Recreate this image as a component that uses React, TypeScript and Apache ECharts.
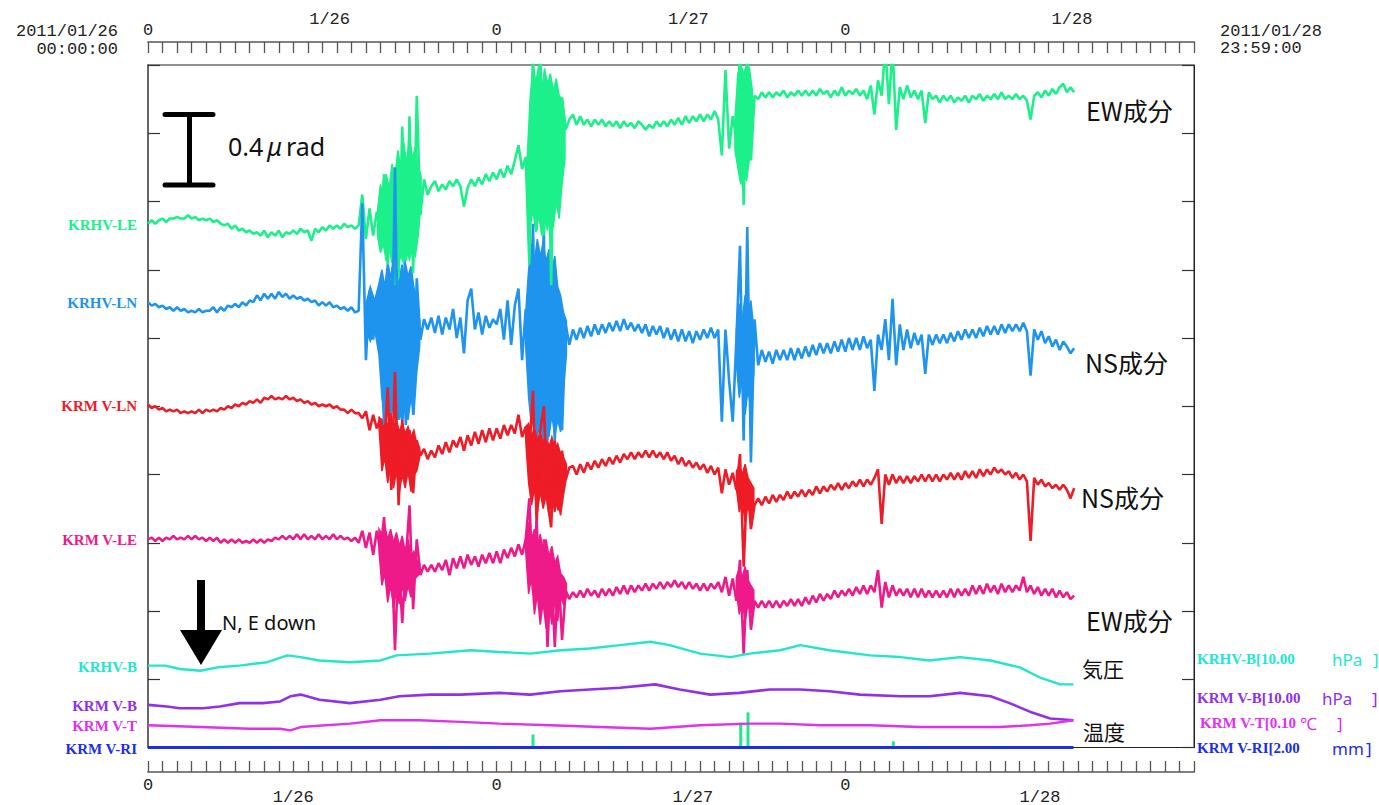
import React, { useEffect, useRef } from "react";
import * as echarts from "echarts";

// ---------- data ----------
const STEP_H = 0.25; // hours between tilt samples (start 2011/01/26 00:00)
const AXIS_HOURS = 72;
const hourZeroLabels = [0, 24, 48];
const topDateLabels: [string, number][] = [["1/26", 12.5], ["1/27", 37.2], ["1/28", 63.6]];
const bottomDateLabels: [string, number][] = [["1/26", 10.0], ["1/27", 37.5], ["1/28", 61.4]];

// tilt traces (μrad on the stacked display axis, 0.4 μrad per division)
const krhvLE = [
  3.07, 3.09, 3.07, 3.09, 3.10, 3.08, 3.10, 3.10, 3.11, 3.10,
  3.10, 3.12, 3.10, 3.11, 3.09, 3.10, 3.09, 3.10, 3.08, 3.09,
  3.07, 3.06, 3.07, 3.04, 3.06, 3.03, 3.04, 3.02, 3.03, 3.01,
  3.02, 3.00, 3.03, 2.99, 3.02, 3.00, 3.03, 2.99, 3.02, 3.01,
  3.03, 3.01, 3.04, 3.02, 3.03, 2.97, 3.04, 3.02, 3.05, 3.03,
  3.06, 3.04, 3.06, 3.04, 3.07, 3.05, 3.06, 3.04, 3.06, 3.24,
  2.98, 3.16, 3.00, 3.14, 3.02, 3.36, 2.83, 3.30, 2.71, 2.76,
  3.64, 2.85, 3.70, 2.78, 3.82, 3.12, 3.33, 3.24, 3.29, 3.32,
  3.26, 3.30, 3.27, 3.32, 3.29, 3.33, 3.29, 3.17, 3.28, 3.33,
  3.29, 3.34, 3.30, 3.36, 3.32, 3.37, 3.33, 3.39, 3.34, 3.41,
  3.36, 3.44, 3.53, 3.39, 3.46, 2.83, 4.10, 3.03, 4.10, 2.98,
  3.91, 2.71, 3.85, 3.23, 3.81, 3.62, 3.68, 3.71, 3.65, 3.70,
  3.65, 3.68, 3.64, 3.68, 3.65, 3.68, 3.64, 3.67, 3.64, 3.67,
  3.63, 3.67, 3.64, 3.66, 3.63, 3.67, 3.65, 3.62, 3.65, 3.63,
  3.67, 3.64, 3.67, 3.64, 3.68, 3.65, 3.69, 3.65, 3.70, 3.66,
  3.70, 3.67, 3.71, 3.67, 3.71, 3.68, 3.73, 3.68, 3.47, 3.97,
  3.51, 3.70, 3.56, 4.10, 3.18, 4.10, 3.44, 3.82, 3.80, 3.84,
  3.81, 3.84, 3.81, 3.84, 3.82, 3.85, 3.81, 3.84, 3.82, 3.85,
  3.82, 3.85, 3.82, 3.85, 3.82, 3.86, 3.83, 3.85, 3.81, 3.85,
  3.82, 3.87, 3.82, 3.85, 3.83, 3.86, 3.82, 3.85, 3.80, 3.88,
  3.71, 3.91, 3.82, 4.10, 3.77, 4.10, 3.62, 3.87, 3.80, 3.88,
  3.81, 3.85, 3.80, 3.85, 3.66, 3.84, 3.80, 3.82, 3.78, 3.82,
  3.79, 3.82, 3.78, 3.81, 3.79, 3.82, 3.78, 3.82, 3.80, 3.83,
  3.79, 3.82, 3.80, 3.83, 3.80, 3.84, 3.80, 3.82, 3.80, 3.83,
  3.80, 3.82, 3.79, 3.68, 3.82, 3.84, 3.81, 3.85, 3.82, 3.86,
  3.83, 3.87, 3.89, 3.84, 3.87, 3.84,
];
const krhvLN = [
  2.61, 2.59, 2.60, 2.58, 2.59, 2.57, 2.58, 2.56, 2.58, 2.56,
  2.57, 2.55, 2.56, 2.55, 2.57, 2.55, 2.56, 2.56, 2.58, 2.55,
  2.58, 2.56, 2.59, 2.58, 2.60, 2.58, 2.61, 2.59, 2.62, 2.61,
  2.65, 2.62, 2.66, 2.63, 2.66, 2.63, 2.67, 2.64, 2.66, 2.63,
  2.65, 2.63, 2.64, 2.62, 2.63, 2.61, 2.62, 2.59, 2.61, 2.59,
  2.61, 2.58, 2.59, 2.57, 2.58, 2.56, 2.58, 2.55, 2.56, 3.19,
  2.27, 2.68, 2.39, 2.62, 2.42, 1.89, 2.80, 1.98, 3.40, 1.92,
  2.83, 1.89, 2.68, 1.95, 2.75, 2.39, 2.51, 2.45, 2.52, 2.43,
  2.53, 2.42, 2.52, 2.45, 2.57, 2.40, 2.52, 2.31, 2.62, 2.69,
  2.45, 2.55, 2.42, 2.53, 2.46, 2.51, 2.48, 2.57, 2.39, 2.62,
  2.36, 2.59, 2.69, 2.27, 2.57, 2.15, 3.07, 1.86, 2.74, 3.00,
  1.80, 2.68, 1.80, 2.62, 1.86, 2.48, 2.36, 2.45, 2.39, 2.46,
  2.40, 2.47, 2.41, 2.48, 2.42, 2.48, 2.43, 2.49, 2.44, 2.50,
  2.44, 2.51, 2.45, 2.49, 2.44, 2.48, 2.43, 2.48, 2.41, 2.47,
  2.42, 2.47, 2.40, 2.46, 2.39, 2.45, 2.38, 2.45, 2.38, 2.44,
  2.37, 2.44, 2.39, 2.45, 2.40, 2.46, 2.40, 2.45, 1.91, 2.45,
  2.15, 1.91, 2.39, 2.94, 1.80, 3.05, 1.67, 2.51, 2.24, 2.33,
  2.26, 2.32, 2.25, 2.33, 2.27, 2.33, 2.27, 2.34, 2.27, 2.34,
  2.28, 2.35, 2.29, 2.36, 2.30, 2.37, 2.31, 2.37, 2.31, 2.38,
  2.32, 2.39, 2.32, 2.40, 2.33, 2.40, 2.33, 2.41, 2.34, 2.39,
  2.09, 2.42, 2.33, 2.51, 2.27, 2.63, 2.24, 2.48, 2.33, 2.45,
  2.34, 2.43, 2.36, 2.42, 2.19, 2.42, 2.36, 2.42, 2.37, 2.42,
  2.37, 2.43, 2.38, 2.44, 2.39, 2.45, 2.40, 2.45, 2.40, 2.46,
  2.41, 2.47, 2.42, 2.47, 2.42, 2.48, 2.43, 2.48, 2.44, 2.48,
  2.44, 2.49, 2.44, 2.18, 2.45, 2.39, 2.44, 2.37, 2.41, 2.35,
  2.39, 2.33, 2.38, 2.35, 2.31, 2.34,
];
const krmvLN = [
  2.01, 1.99, 2.00, 1.98, 1.99, 1.97, 1.98, 1.97, 1.98, 1.96,
  1.97, 1.96, 1.97, 1.96, 1.98, 1.96, 1.98, 1.97, 1.98, 1.97,
  1.99, 1.98, 2.00, 1.99, 2.01, 2.00, 2.02, 2.01, 2.03, 2.02,
  2.04, 2.02, 2.05, 2.04, 2.06, 2.04, 2.05, 2.04, 2.06, 2.04,
  2.05, 2.03, 2.04, 2.02, 2.03, 2.01, 2.02, 2.00, 2.01, 2.00,
  2.01, 1.99, 2.00, 1.98, 1.98, 1.96, 1.98, 1.96, 1.96, 1.93,
  1.97, 1.86, 1.95, 1.87, 1.93, 1.74, 2.11, 1.51, 2.20, 1.42,
  1.92, 1.63, 1.86, 1.49, 1.80, 1.71, 1.75, 1.69, 1.74, 1.70,
  1.77, 1.72, 1.79, 1.73, 1.80, 1.76, 1.82, 1.74, 1.83, 1.77,
  1.85, 1.78, 1.86, 1.79, 1.87, 1.80, 1.87, 1.81, 1.89, 1.83,
  1.89, 1.84, 1.95, 1.82, 1.88, 1.74, 2.09, 1.31, 1.86, 2.00,
  1.45, 1.29, 1.80, 1.39, 1.74, 1.57, 1.64, 1.65, 1.60, 1.66,
  1.61, 1.67, 1.63, 1.68, 1.64, 1.69, 1.65, 1.70, 1.66, 1.71,
  1.67, 1.72, 1.69, 1.73, 1.69, 1.73, 1.70, 1.74, 1.70, 1.74,
  1.70, 1.73, 1.69, 1.73, 1.68, 1.71, 1.66, 1.70, 1.65, 1.68,
  1.64, 1.67, 1.63, 1.66, 1.61, 1.65, 1.60, 1.64, 1.49, 1.63,
  1.54, 1.61, 1.51, 1.72, 1.06, 1.57, 1.28, 1.42, 1.46, 1.42,
  1.47, 1.43, 1.48, 1.44, 1.48, 1.45, 1.50, 1.46, 1.50, 1.47,
  1.51, 1.47, 1.51, 1.48, 1.53, 1.49, 1.53, 1.50, 1.54, 1.51,
  1.55, 1.51, 1.55, 1.52, 1.56, 1.53, 1.57, 1.53, 1.57, 1.54,
  1.58, 1.63, 1.31, 1.60, 1.54, 1.60, 1.55, 1.59, 1.55, 1.59,
  1.55, 1.59, 1.56, 1.60, 1.56, 1.60, 1.56, 1.60, 1.56, 1.60,
  1.57, 1.61, 1.57, 1.61, 1.57, 1.62, 1.58, 1.62, 1.58, 1.63,
  1.59, 1.63, 1.60, 1.64, 1.61, 1.63, 1.60, 1.62, 1.58, 1.61,
  1.57, 1.60, 1.56, 1.21, 1.58, 1.54, 1.57, 1.53, 1.55, 1.52,
  1.54, 1.51, 1.54, 1.51, 1.46, 1.52,
];
const krmvLE = [
  1.22, 1.23, 1.21, 1.23, 1.21, 1.23, 1.22, 1.24, 1.22, 1.23,
  1.22, 1.24, 1.22, 1.24, 1.22, 1.23, 1.21, 1.23, 1.21, 1.23,
  1.20, 1.22, 1.20, 1.22, 1.20, 1.22, 1.20, 1.21, 1.20, 1.22,
  1.20, 1.22, 1.20, 1.22, 1.21, 1.23, 1.22, 1.24, 1.22, 1.24,
  1.22, 1.25, 1.22, 1.25, 1.22, 1.24, 1.22, 1.25, 1.22, 1.24,
  1.22, 1.25, 1.22, 1.24, 1.22, 1.23, 1.21, 1.23, 1.20, 1.27,
  1.17, 1.26, 1.13, 1.27, 1.15, 1.35, 0.92, 1.22, 0.57, 1.13,
  0.73, 1.10, 1.42, 0.81, 1.22, 1.01, 1.07, 1.03, 1.07, 1.03,
  1.08, 1.04, 1.10, 1.01, 1.11, 1.05, 1.12, 1.05, 1.13, 1.07,
  1.12, 1.06, 1.13, 1.08, 1.14, 1.08, 1.15, 1.08, 1.16, 1.11,
  1.17, 1.12, 1.19, 1.13, 1.22, 1.46, 0.92, 1.33, 0.81, 1.22,
  0.59, 1.10, 0.59, 1.04, 0.63, 0.92, 0.87, 0.91, 0.88, 0.92,
  0.88, 0.93, 0.89, 0.92, 0.88, 0.93, 0.89, 0.93, 0.89, 0.94,
  0.90, 0.95, 0.90, 0.95, 0.91, 0.95, 0.92, 0.96, 0.92, 0.96,
  0.93, 0.97, 0.93, 0.97, 0.94, 0.98, 0.94, 0.97, 0.93, 0.97,
  0.93, 0.96, 0.92, 0.96, 0.92, 0.96, 0.93, 0.97, 0.91, 1.00,
  0.89, 0.99, 0.86, 1.10, 0.55, 1.04, 0.69, 0.86, 0.82, 0.86,
  0.82, 0.86, 0.82, 0.86, 0.82, 0.86, 0.83, 0.87, 0.83, 0.87,
  0.83, 0.88, 0.84, 0.89, 0.85, 0.90, 0.86, 0.90, 0.87, 0.92,
  0.88, 0.92, 0.89, 0.93, 0.89, 0.94, 0.90, 0.95, 0.90, 0.95,
  0.91, 1.04, 0.82, 0.97, 0.88, 0.95, 0.89, 0.93, 0.89, 0.93,
  0.88, 0.93, 0.88, 0.93, 0.88, 0.92, 0.88, 0.92, 0.88, 0.92,
  0.88, 0.93, 0.88, 0.93, 0.89, 0.93, 0.89, 0.95, 0.90, 0.95,
  0.90, 0.96, 0.91, 0.95, 0.90, 0.96, 0.91, 0.95, 0.91, 0.95,
  0.92, 1.00, 0.91, 0.95, 0.90, 0.94, 0.89, 0.93, 0.89, 0.93,
  0.88, 0.92, 0.88, 0.91, 0.87, 0.89,
];

// dense core of the shaking bursts: [hour, low, high] (same μrad scale)
const leBurst1 = [
  [15.8, 3.00, 3.15], [16.0, 2.90, 3.30], [16.2, 2.95, 3.22], [16.4, 2.85, 3.36], [16.6, 2.92, 3.28],
  [16.8, 2.84, 3.42], [17.0, 2.90, 3.34], [17.2, 2.83, 3.50], [17.4, 2.88, 3.40], [17.6, 2.84, 3.55],
  [17.8, 2.90, 3.42], [18.0, 2.86, 3.58], [18.2, 2.92, 3.45], [18.4, 2.88, 3.52], [18.6, 3.00, 3.40],
  [18.8, 3.20, 3.35],
];
const leBurst2 = [
  [26.1, 3.25, 3.45], [26.3, 3.05, 3.80], [26.5, 3.15, 4.00], [26.7, 3.02, 3.90], [26.9, 3.12, 4.00],
  [27.1, 3.00, 3.85], [27.3, 3.10, 3.98], [27.5, 3.03, 3.88], [27.7, 3.15, 3.95], [27.9, 3.05, 3.85],
  [28.1, 3.20, 3.92], [28.3, 3.10, 3.82], [28.5, 3.30, 3.80], [28.7, 3.45, 3.68],
];
const leBurst3 = [
  [40.4, 3.50, 3.68], [40.6, 3.40, 3.95], [40.8, 3.30, 4.00], [41.0, 3.38, 3.95], [41.2, 3.32, 4.00],
  [41.4, 3.45, 3.98], [41.6, 3.62, 3.85],
];
const lnBurst1 = [
  [15.0, 2.45, 2.60], [15.3, 2.38, 2.70], [15.6, 2.45, 2.62], [15.9, 2.30, 2.72], [16.1, 2.05, 2.80],
  [16.3, 1.95, 2.70], [16.5, 2.00, 2.85], [16.7, 1.92, 2.75], [16.9, 2.02, 2.88], [17.1, 1.90, 2.78],
  [17.3, 1.98, 2.82], [17.5, 1.90, 2.72], [17.7, 2.00, 2.85], [17.9, 1.92, 2.76], [18.1, 2.05, 2.82],
  [18.3, 1.95, 2.70], [18.5, 2.20, 2.60], [18.7, 2.35, 2.50],
];
const lnBurst2 = [
  [26.0, 2.35, 2.55], [26.2, 2.05, 2.80], [26.4, 1.88, 2.95], [26.6, 1.95, 2.85], [26.8, 1.82, 2.98],
  [27.0, 1.92, 2.88], [27.2, 1.80, 2.95], [27.4, 1.90, 2.85], [27.6, 1.82, 2.92], [27.8, 1.95, 2.80],
  [28.0, 1.82, 2.88], [28.2, 1.92, 2.70], [28.4, 1.85, 2.65], [28.6, 2.10, 2.55], [28.8, 2.30, 2.50],
];
const lnBurst3 = [
  [40.5, 2.25, 2.45], [40.7, 2.05, 2.60], [40.9, 2.15, 2.50], [41.1, 1.95, 2.65], [41.3, 2.10, 2.55],
  [41.5, 1.98, 2.62], [41.7, 2.20, 2.45],
];
const mlnBurst1 = [
  [15.9, 1.88, 1.94], [16.1, 1.62, 1.90], [16.3, 1.70, 1.95], [16.5, 1.55, 1.88], [16.7, 1.65, 1.96],
  [16.9, 1.52, 1.88], [17.1, 1.62, 1.92], [17.3, 1.50, 1.85], [17.5, 1.60, 1.90], [17.7, 1.52, 1.84],
  [17.9, 1.62, 1.88], [18.1, 1.50, 1.82], [18.3, 1.60, 1.86], [18.5, 1.62, 1.78], [18.7, 1.70, 1.76],
];
const mlnBurst2 = [
  [26.0, 1.80, 1.88], [26.2, 1.55, 1.90], [26.4, 1.42, 1.82], [26.6, 1.52, 1.88], [26.8, 1.38, 1.80],
  [27.0, 1.50, 1.85], [27.2, 1.40, 1.78], [27.4, 1.48, 1.84], [27.6, 1.36, 1.76], [27.8, 1.46, 1.82],
  [28.0, 1.38, 1.75], [28.2, 1.45, 1.78], [28.4, 1.36, 1.72], [28.6, 1.48, 1.70], [28.8, 1.58, 1.66],
];
const mlnBurst3 = [
  [40.5, 1.52, 1.62], [40.7, 1.38, 1.65], [40.9, 1.45, 1.60], [41.1, 1.32, 1.66], [41.3, 1.42, 1.58],
  [41.5, 1.35, 1.55], [41.7, 1.44, 1.52],
];
const mleBurst1 = [
  [15.9, 1.15, 1.28], [16.1, 0.95, 1.25], [16.3, 1.02, 1.30], [16.5, 0.85, 1.22], [16.7, 0.95, 1.28],
  [16.9, 0.82, 1.20], [17.1, 0.92, 1.26], [17.3, 0.84, 1.18], [17.5, 0.95, 1.24], [17.7, 0.86, 1.15],
  [17.9, 0.95, 1.22], [18.1, 0.88, 1.12], [18.3, 0.98, 1.15], [18.5, 1.00, 1.10], [18.7, 1.02, 1.08],
];
const mleBurst2 = [
  [26.0, 1.15, 1.25], [26.2, 0.90, 1.32], [26.4, 1.00, 1.22], [26.6, 0.78, 1.28], [26.8, 0.90, 1.18],
  [27.0, 0.72, 1.25], [27.2, 0.85, 1.15], [27.4, 0.70, 1.22], [27.6, 0.84, 1.12], [27.8, 0.72, 1.18],
  [28.0, 0.86, 1.08], [28.2, 0.74, 1.12], [28.4, 0.88, 1.02], [28.6, 0.84, 1.00], [28.8, 0.88, 0.96],
];
const mleBurst3 = [
  [40.5, 0.92, 1.00], [40.7, 0.78, 1.05], [40.9, 0.86, 1.00], [41.1, 0.74, 1.06], [41.3, 0.84, 0.98],
  [41.5, 0.78, 0.95], [41.7, 0.86, 0.92],
];

// [hour, display value]
const krhvB = [
  [0, 0.48], [1.2, 0.48], [2.2, 0.46], [3.6, 0.45], [4.8, 0.47], [6.3, 0.48], [8.2, 0.50],
  [9.6, 0.54], [10.5, 0.53], [11.8, 0.51], [13.9, 0.50], [16, 0.51], [17.1, 0.54], [19.4, 0.55],
  [22.2, 0.57], [24.2, 0.56], [26.3, 0.55], [28.4, 0.57], [30.4, 0.58], [32.5, 0.60], [34.6, 0.62],
  [35.9, 0.60], [38, 0.55], [40.1, 0.53], [41.4, 0.55], [43.5, 0.57], [44.9, 0.60], [46.9, 0.57],
  [49.7, 0.54], [51.8, 0.53], [53.8, 0.51], [55.9, 0.53], [58, 0.51], [60, 0.47], [61.4, 0.41],
  [62.8, 0.37], [63.7, 0.37],
];
const krmvB = [
  [0, 0.25], [1.3, 0.24], [2.2, 0.23], [3.8, 0.23], [4.95, 0.24], [6.3, 0.26], [7.9, 0.26],
  [9.1, 0.27], [9.8, 0.30], [10.5, 0.31], [11.8, 0.28], [13.9, 0.26], [16, 0.28], [17.3, 0.30],
  [19.4, 0.31], [21.5, 0.31], [24.2, 0.32], [26.3, 0.31], [28.4, 0.33], [30.4, 0.34], [32.5, 0.35],
  [34.9, 0.37], [36.6, 0.34], [38.7, 0.31], [40.7, 0.32], [42.8, 0.34], [44.9, 0.34], [46.9, 0.33],
  [49, 0.31], [51.8, 0.30], [53.8, 0.30], [55.9, 0.32], [58, 0.30], [59.3, 0.26], [60.7, 0.21],
  [62.1, 0.17], [63.7, 0.16],
];
const krmvT = [
  [0, 0.13], [3.6, 0.12], [7, 0.11], [9.1, 0.11], [9.8, 0.10], [10.5, 0.12], [13.9, 0.14],
  [16, 0.16], [18.7, 0.16], [21.5, 0.15], [24.2, 0.14], [27.7, 0.13], [31.1, 0.12], [34.6, 0.11],
  [38, 0.13], [41.4, 0.14], [43.5, 0.14], [46.3, 0.13], [49.7, 0.13], [53.1, 0.12], [56.6, 0.12],
  [58.6, 0.12], [60.7, 0.13], [62.1, 0.14], [63.7, 0.16],
];
// rain gauge (mm, 2.00 mm per division)
const krmvRI = [[0, 0], [63.7, 0]];
const rainBars = [[26.5, 0.38], [40.8, 0.73], [41.3, 1.03], [51.3, 0.18]];

// ---------- styling ----------
const COL = {
  le: "#1cf08a",
  ln: "#1e94ee",
  mln: "#ee1c26",
  mle: "#ee1a8a",
  hb: "#22e6cc",
  mb: "#9030e8",
  mt: "#e030f0",
  ri: "#1c2ee8",
  rain: "#22e88c",
};
const MONO = '"Liberation Mono", "DejaVu Sans Mono", monospace';
const LABEL_FONT = 'bold 15px "Liberation Serif", serif';
const SANS = '"Noto Sans", "Open Sans", sans-serif';
const CJK = '"Noto Sans CJK JP", "Noto Sans", sans-serif';

const toPairs = (arr: number[]) => arr.map((v, i) => [i * STEP_H, v]);

export default function App() {
  const ref = useRef<HTMLDivElement>(null);

  useEffect(() => {
    if (!ref.current) return;
    const chart = echarts.init(ref.current, null, { renderer: "svg" });

    const labelFmt = (v: number) => (hourZeroLabels.includes(v) ? "0" : "");
    const timeAxis = (gridIndex: number, position: string, margin: number) => ({
      type: "value",
      gridIndex,
      position,
      min: 0,
      max: AXIS_HOURS,
      interval: 1,
      axisLine: { show: true, onZero: false, lineStyle: { color: "#808080", width: 2 } },
      axisTick: { show: true, inside: true, length: 11, lineStyle: { color: "#555", width: 1.3 } },
      axisLabel: { formatter: labelFmt, margin, fontFamily: MONO, fontSize: 17, color: "#222" },
      splitLine: { show: false },
    });
    const yAxisBase = {
      type: "value",
      gridIndex: 0,
      min: 0,
      max: 4,
      interval: 0.4,
      axisTick: { show: true, inside: true, length: 12, lineStyle: { color: "#333", width: 1.2 } },
      axisLabel: { show: false },
      splitLine: { show: false },
    };
    const lineS = (name: string, data: any, color: string, width = 2.6, yAxisIndex = 0) => ({
      name,
      type: "line",
      data,
      xAxisIndex: 0,
      yAxisIndex,
      symbol: "none",
      showSymbol: false,
      clip: true,
      silent: true,
      lineStyle: { color, width },
    });
    // filled envelope of a burst, drawn through the axes with a custom series
    const burstS = (knots: number[][], color: string) => ({
      type: "custom",
      xAxisIndex: 0,
      yAxisIndex: 0,
      silent: true,
      clip: true,
      data: [[knots[0][0], knots[0][2]]],
      renderItem: (_p: any, api: any) => {
        const upper = knots.map((k) => api.coord([k[0], k[2]]));
        const lower = knots.slice().reverse().map((k) => api.coord([k[0], k[1]]));
        return {
          type: "polygon",
          shape: { points: upper.concat(lower) },
          style: { fill: color, stroke: color, lineWidth: 1.5, lineJoin: "miter" },
        };
      },
    });

    chart.setOption({
      animation: false,
      backgroundColor: "#ffffff",
      grid: [
        { left: 148, top: 65, width: 1046, height: 682.5, show: true, borderColor: "#222", borderWidth: 1 },
        { left: 148, top: 42, width: 1046, height: 1, show: false },
        { left: 148, top: 771, width: 1046, height: 1, show: false },
      ],
      xAxis: [
        { type: "value", gridIndex: 0, min: 0, max: AXIS_HOURS, show: false },
        timeAxis(1, "top", 3),
        timeAxis(2, "bottom", 5),
      ],
      yAxis: [
        { ...yAxisBase, position: "left", axisLine: { show: true, lineStyle: { color: "#666", width: 2 } } },
        { ...yAxisBase, position: "right", axisLine: { show: true, lineStyle: { color: "#222", width: 1 } } },
        { type: "value", gridIndex: 0, min: 0, max: 20, show: false },
        { type: "value", gridIndex: 1, min: 0, max: 1, show: false },
        { type: "value", gridIndex: 2, min: 0, max: 1, show: false },
      ],
      series: [
        burstS(leBurst1, COL.le),
        burstS(leBurst2, COL.le),
        burstS(leBurst3, COL.le),
        lineS("KRHV-LE", toPairs(krhvLE), COL.le),
        burstS(lnBurst1, COL.ln),
        burstS(lnBurst2, COL.ln),
        burstS(lnBurst3, COL.ln),
        lineS("KRHV-LN", toPairs(krhvLN), COL.ln),
        burstS(mlnBurst1, COL.mln),
        burstS(mlnBurst2, COL.mln),
        burstS(mlnBurst3, COL.mln),
        lineS("KRMV-LN", toPairs(krmvLN), COL.mln),
        burstS(mleBurst1, COL.mle),
        burstS(mleBurst2, COL.mle),
        burstS(mleBurst3, COL.mle),
        lineS("KRMV-LE", toPairs(krmvLE), COL.mle),
        lineS("KRHV-B", krhvB, COL.hb, 2.4),
        lineS("KRMV-B", krmvB, COL.mb, 2.6),
        lineS("KRMV-T", krmvT, COL.mt, 2.4),
        {
          name: "rain",
          type: "bar",
          data: rainBars,
          xAxisIndex: 0,
          yAxisIndex: 2,
          barWidth: 3,
          silent: true,
          itemStyle: { color: COL.rain },
        },
        lineS("KRMV-RI", krmvRI, COL.ri, 3, 2),
      ],
    });

    const px = (h: number) => chart.convertToPixel({ xAxisIndex: 0 }, h) as number;
    const py = (v: number, yAxisIndex = 0) => chart.convertToPixel({ yAxisIndex }, v) as number;

    const text = (t: string, x: number, y: number, font: string, fill: string, align = "left") => ({
      type: "text",
      silent: true,
      style: { text: t, x, y, font, fill, textAlign: align, textVerticalAlign: "middle" },
    });

    const leftLabels: [string, number, string][] = [
      ["KRHV-LE", py(krhvLE[0]), COL.le],
      ["KRHV-LN", py(krhvLN[0]), COL.ln],
      ["KRM V-LN", py(krmvLN[0]), COL.mln],
      ["KRM V-LE", py(krmvLE[0]), COL.mle],
      ["KRHV-B", py(krhvB[0][1]), COL.hb],
      ["KRM V-B", py(krmvB[0][1]), COL.mb],
      ["KRM V-T", py(krmvT[0][1]), COL.mt],
      ["KRM V-RI", py(krmvRI[0][1], 2), COL.ri],
    ];

    const richLabel = (a: string, b: string, aw: number, bw: number, x: number, y: number, color: string) => ({
      type: "text",
      silent: true,
      style: {
        text: `{a|${a}}{b|${b}}{c|]}`,
        x,
        y,
        textVerticalAlign: "middle",
        fill: color,
        rich: {
          a: { font: LABEL_FONT, fill: color, width: aw },
          b: { fontFamily: SANS, fontSize: 17, fill: color, width: bw },
          c: { fontFamily: SANS, fontSize: 17, fill: color },
        },
      },
    });

    const graphics: any[] = [
      // time stamps
      text("2011/01/26", 118, 31, `17px ${MONO}`, "#222", "right"),
      text("00:00:00", 118, 49, `17px ${MONO}`, "#222", "right"),
      text("2011/01/28", 1220, 31, `17px ${MONO}`, "#222"),
      text("23:59:00", 1220, 48, `17px ${MONO}`, "#222"),
      ...topDateLabels.map(([t, h]) => text(t, px(h), 19, `17px ${MONO}`, "#222", "center")),
      ...bottomDateLabels.map(([t, h]) => text(t, px(h), 797, `17px ${MONO}`, "#222", "center")),
      // channel names
      ...leftLabels.map(([t, y, c]) => text(t, 137, y + 1, LABEL_FONT, c, "right")),
      richLabel("KRHV-B[10.00", "hPa", 135, 41, 1197, 659, COL.hb),
      richLabel("KRM V-B[10.00", "hPa", 125, 50, 1197, 698, COL.mb),
      richLabel("KRM V-T[0.10", "℃", 100, 37, 1200, 723, COL.mt),
      richLabel("KRM V-RI[2.00", "mm", 135, 34, 1197, 748, COL.ri),
      // component notes
      text("EW成分", 1086, 110, `25px ${CJK}`, "#111"),
      text("NS成分", 1085, 362, `25px ${CJK}`, "#111"),
      text("NS成分", 1081, 497, `25px ${CJK}`, "#111"),
      text("EW成分", 1086, 620, `25px ${CJK}`, "#111"),
      text("気圧", 1082, 668, `21px ${CJK}`, "#111"),
      text("温度", 1083, 731, `21px ${CJK}`, "#111"),
      // scale bar 0.4 μrad
      { type: "line", silent: true, shape: { x1: 189.5, y1: 114.5, x2: 189.5, y2: 185 }, style: { stroke: "#000", lineWidth: 5 } },
      { type: "line", silent: true, shape: { x1: 165, y1: 114.5, x2: 213, y2: 114.5 }, style: { stroke: "#000", lineWidth: 5, lineCap: "round" } },
      { type: "line", silent: true, shape: { x1: 165, y1: 185, x2: 213, y2: 185 }, style: { stroke: "#000", lineWidth: 5, lineCap: "round" } },
      {
        type: "text",
        silent: true,
        style: {
          text: "{a|0.4}{b|μ}{a|rad}",
          x: 228,
          y: 146,
          textVerticalAlign: "middle",
          fill: "#111",
          rich: {
            a: { fontFamily: SANS, fontSize: 25, fill: "#111" },
            b: { fontFamily: SANS, fontSize: 25, fontStyle: "italic", fill: "#111", padding: [0, 4, 0, 4] },
          },
        },
      },
      // direction arrow
      { type: "rect", silent: true, shape: { x: 197, y: 580, width: 8, height: 52 }, style: { fill: "#000" } },
      { type: "polygon", silent: true, shape: { points: [[180, 630], [222, 630], [201, 665]] }, style: { fill: "#000" } },
      text("N, E down", 222, 622, `20px ${SANS}`, "#111"),
    ];

    chart.setOption({ graphic: graphics });

    return () => chart.dispose();
  }, []);

  return (
    <div
      ref={ref}
      style={{ position: "fixed", left: 0, top: 0, width: 1379, height: 805, background: "#fff" }}
    />
  );
}
